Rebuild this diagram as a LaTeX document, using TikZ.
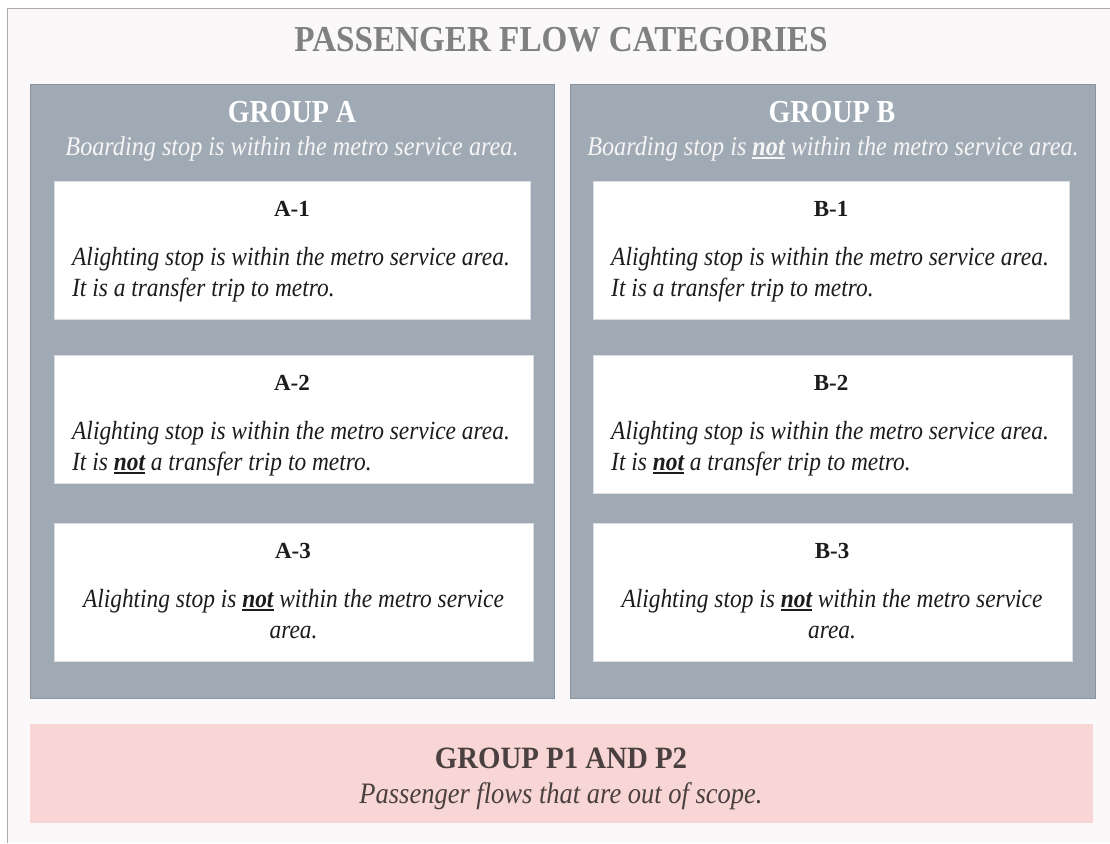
\documentclass[tikz,border=0pt]{standalone}
\usepackage{fontspec}
\setmainfont{Liberation Serif}
\usepackage{graphicx}

\definecolor{pagebg}{HTML}{FAF8F8}
\definecolor{framegray}{HTML}{ABABAB}
\definecolor{panelgray}{HTML}{A0AAB4}
\definecolor{paneledge}{HTML}{8A949E}
\definecolor{boxedge}{HTML}{DADDE1}
\definecolor{pinkfill}{HTML}{F8D6D5}
\definecolor{titlegray}{HTML}{808080}
\definecolor{pinktext}{HTML}{4A4040}
\definecolor{bodytext}{HTML}{1C1C1C}

% underlined emphasis word
\newlength\ulw
\newcommand\ulword[1]{\settowidth\ulw{#1}#1\llap{\rule[-4pt]{\ulw}{1.8pt}}}
\newcommand\nt{\textbf{\ulword{not}}}
% slightly taller italic lettering
\newcommand\tall[1]{\scalebox{1}[1.12]{#1}}

\begin{document}
\begin{tikzpicture}[x=1pt,y=-1pt,
  panel/.style={fill=panelgray, draw=paneledge, line width=1pt, inner sep=0pt, outer sep=0pt, anchor=north west},
  card/.style={fill=white, draw=boxedge, line width=0.8pt, inner sep=0pt, outer sep=0pt, anchor=north west},
  outband/.style={fill=pinkfill, draw=none, inner sep=0pt, outer sep=0pt, anchor=north west},
  maintitle/.style={anchor=base, inner sep=0pt, text=titlegray, font=\fontsize{35.5}{40}\selectfont\bfseries},
  grouphead/.style={anchor=base, inner sep=0pt, text=white, font=\fontsize{32}{36}\selectfont\bfseries},
  groupsub/.style={anchor=base, inner sep=0pt, text=white!96!black, font=\fontsize{24.2}{28}\selectfont\itshape},
  cardhead/.style={anchor=base, inner sep=0pt, text=bodytext, font=\fontsize{23}{26}\selectfont\bfseries},
  cardline/.style={anchor=base west, inner sep=0pt, text=bodytext, font=\fontsize{23.4}{27}\selectfont\itshape},
  cardcline/.style={anchor=base, inner sep=0pt, text=bodytext, font=\fontsize{23.4}{27}\selectfont\itshape},
  pinkhead/.style={anchor=base, inner sep=0pt, text=pinktext, font=\fontsize{31}{35}\selectfont\bfseries},
  pinksub/.style={anchor=base, inner sep=0pt, text=pinktext, font=\fontsize{26.5}{30}\selectfont\itshape},
]
% page and frame
\useasboundingbox (0,0) rectangle (1110,843);
\fill[white] (0,0) rectangle (1110,843);
\fill[pagebg] (7.5,8.5) rectangle (1110,843);
\draw[framegray, line width=1.4pt] (7.5,843) -- (7.5,8.5) -- (1110,8.5);

\node[maintitle] (title) at (561,52) {\scalebox{0.934}[1.03]{PASSENGER FLOW CATEGORIES}};

% group panels
\node[panel, minimum width=524pt, minimum height=614pt] (grpA) at (30,84) {};
\node[panel, minimum width=525pt, minimum height=614pt] (grpB) at (570,84) {};

\node[grouphead] (grpAhead) at (292,122) {\scalebox{0.875}[1]{GROUP A}};
\node[groupsub] (grpAsub) at (292,155) {\tall{Boarding stop is within the metro service area.}};
\node[grouphead] (grpBhead) at (832,122) {\scalebox{0.875}[1]{GROUP B}};
\node[groupsub] (grpBsub) at (833,155) {\tall{Boarding stop is \nt{} within the metro service area.}};

% group A cards
\node[card, minimum width=476pt, minimum height=138pt] (a1) at (54,181) {};
\node[cardhead] (a1head) at (292,216) {A-1};
\node[cardline] (a1l1) at (72,265) {\tall{Alighting stop is within the metro service area.}};
\node[cardline] (a1l2) at (72,296) {\tall{It is a transfer trip to metro.}};

\node[card, minimum width=479pt, minimum height=128pt] (a2) at (54,355) {};
\node[cardhead] (a2head) at (292,390) {A-2};
\node[cardline] (a2l1) at (72,439) {\tall{Alighting stop is within the metro service area.}};
\node[cardline] (a2l2) at (72,470) {\tall{It is \nt{} a transfer trip to metro.}};

\node[card, minimum width=479pt, minimum height=138pt] (a3) at (54,523) {};
\node[cardhead] (a3head) at (293,558) {A-3};
\node[cardcline] (a3l1) at (293.5,607) {\tall{Alighting stop is \nt{} within the metro service}};
\node[cardcline] (a3l2) at (293.5,638) {\tall{area.}};

% group B cards
\node[card, minimum width=476pt, minimum height=138pt] (b1) at (593,181) {};
\node[cardhead] (b1head) at (831,216) {B-1};
\node[cardline] (b1l1) at (611,265) {\tall{Alighting stop is within the metro service area.}};
\node[cardline] (b1l2) at (611,296) {\tall{It is a transfer trip to metro.}};

\node[card, minimum width=479pt, minimum height=138pt] (b2) at (593,355) {};
\node[cardhead] (b2head) at (831,390) {B-2};
\node[cardline] (b2l1) at (611,439) {\tall{Alighting stop is within the metro service area.}};
\node[cardline] (b2l2) at (611,470) {\tall{It is \nt{} a transfer trip to metro.}};

\node[card, minimum width=479pt, minimum height=138pt] (b3) at (593,523) {};
\node[cardhead] (b3head) at (832,558) {B-3};
\node[cardcline] (b3l1) at (832,607) {\tall{Alighting stop is \nt{} within the metro service}};
\node[cardcline] (b3l2) at (832,638) {\tall{area.}};

% out-of-scope band
\node[outband, minimum width=1063pt, minimum height=99pt] (grpP) at (30,724) {};
\node[pinkhead] (grpPhead) at (561,768) {\scalebox{0.93}[1]{GROUP P1 AND P2}};
\node[pinksub] (grpPsub) at (561,803) {\tall{Passenger flows that are out of scope.}};
\end{tikzpicture}
\end{document}
